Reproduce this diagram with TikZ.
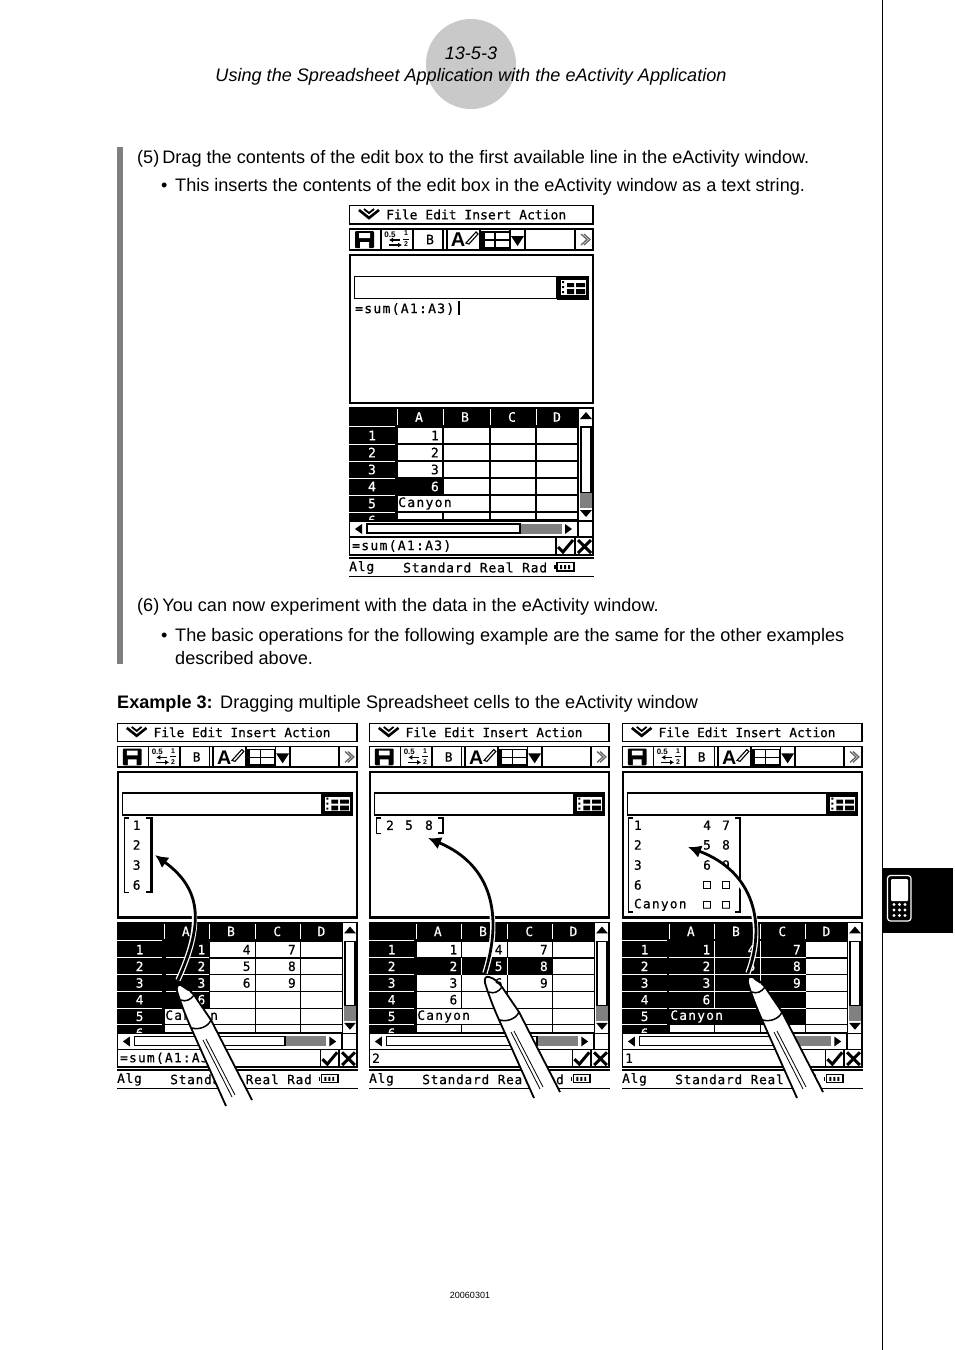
\documentclass[tikz,border=0pt]{standalone}
\usepackage{fontspec}
\usetikzlibrary{arrows.meta}
\setmainfont{Liberation Sans}
\newfontfamily\lcdmenu[FakeBold=.6]{DejaVu Sans Mono}
\newfontfamily\lcdtext[LetterSpace=10,FakeBold=.6]{DejaVu Sans Mono}
\newfontfamily\lcdstat[LetterSpace=6,FakeBold=.6]{DejaVu Sans Mono}
\definecolor{tabgray}{HTML}{C9C9C9}
\definecolor{bargray}{HTML}{7F7F7F}

\tikzset{
  body/.style = {anchor=base west, inner sep=0pt, font=\fontsize{18.1}{20}\selectfont},
  head/.style = {anchor=base, inner sep=0pt, font=\fontsize{18.1}{20}\selectfont\itshape},
  lcd/.style = {inner sep=0pt, font=\fontsize{13}{14}\lcdtext},
  lcdw/.style = {lcd, text=white},
  menutxt/.style = {inner sep=0pt, anchor=west, font=\fontsize{13}{14}\lcdmenu},
  stat/.style = {inner sep=0pt, anchor=west, font=\fontsize{13}{14}\lcdstat},
  frame/.style = {draw=black, line width=1.6pt, fill=white},
  thickframe/.style = {draw=black, line width=2.6pt, fill=white},
  grid/.style = {black, line width=1.1pt},
  wgrid/.style = {white, line width=1pt},
  hatch/.style = {fill=black!50},
  pen/.style = {black, line width=1.8pt, line join=round},
  drag/.style = {black, line width=2.8pt, preaction={draw=white, line width=5.4pt, -},
                 -{Latex[length=13pt,width=13pt]}},
}

% toolbar, main window and the empty table of one screen
\newcommand\screenbase{%
  % menu
  \draw[frame] (.5,.5) rectangle (244,19);
  \draw[line width=2.6pt] (10,5) -- (20,13) -- (30,5);
  \draw[line width=1.8pt] (15,4) -- (20,8) -- (25,4);
  \node[menutxt] at (37,9.5) {File Edit Insert Action};
  % toolbar
  \draw[frame] (.5,24) rectangle (244,45);
  \foreach \xa in {32,64,94,98,131,176,226}
    \draw[line width=1.8pt] (\xa,23.5) -- (\xa,45.5);
  \fill[rounded corners=1pt] (6,26) rectangle (25,43);
  \fill[white] (10,28) rectangle (21,33) (11,37) rectangle (20,43);
  \node[inner sep=0pt, font=\bfseries\fontsize{8}{8}\selectfont] at (41,29.5) {0.5};
  \node[inner sep=0pt, font=\bfseries\fontsize{7}{7}\selectfont] at (57,28.5) {1};
  \node[inner sep=0pt, font=\bfseries\fontsize{7}{7}\selectfont] at (57,39.5) {2};
  \draw[line width=.8pt] (54,34) -- (60,34);
  \draw[line width=1.5pt, -{Latex[length=4pt,width=5pt]}] (51,35) -- (40,35);
  \draw[line width=1.5pt, -{Latex[length=4pt,width=5pt]}] (40,40) -- (53,40);
  \node[lcd, font=\fontsize{13}{13}\lcdmenu] at (81,34.5) {B};
  \node[inner sep=0pt, font=\bfseries\fontsize{20}{20}\selectfont] at (109,35) {A};
  \draw[line width=1.1pt] (117,38) -- (127,27) -- (129,29) -- (120,39) -- cycle;
  \draw[line width=1.6pt] (132,27) rectangle (161,43);
  \draw[line width=1.6pt] (132,35) -- (161,35) (146,27) -- (146,43);
  \draw[line width=3pt] (134,27) -- (134,43);
  \draw[line width=1.2pt] (161,24) -- (161,45);
  \fill (162,31) -- (175,31) -- (168.5,41) -- cycle;
  \fill[white] (177,25) rectangle (225,44);
  \draw[black!60, line width=1.3pt] (232,29) -- (238,34.5) -- (232,40) (235,29) -- (241,34.5) -- (235,40);
  % main window
  \draw[thickframe] (1,50) rectangle (244,198);
  \draw[frame] (5.5,71.5) rectangle (208,93.5);
  \fill (208,70.5) rectangle (240,94.5);
  \fill[white] (212,75) rectangle (237,90);
  \fill (218,78) rectangle (225,82) (227,78) rectangle (236,82)
        (218,84) rectangle (225,89) (227,84) rectangle (236,89)
        (213,76) rectangle (215,78) (213,81) rectangle (215,83) (213,86) rectangle (215,88);
  % table
  \fill (0,202) rectangle (229,222);
  \fill (0,222) rectangle (48,315);
  \draw[grid] (48,222) rectangle (229,315);
  \foreach \ya in {239,256,273,290,307} {
    \draw[grid] (48,\ya) -- (229,\ya);
    \draw[wgrid] (0,\ya) -- (46,\ya);
  }
  \draw[wgrid] (0,221) -- (46,221);
  \foreach \xa in {48,141,187} \draw[grid] (\xa,222) -- (\xa,315);
  \draw[grid] (94,222) -- (94,290) (94,307) -- (94,315);
  \foreach \xa in {48,94,141,187} \draw[wgrid] (\xa,204) -- (\xa,220);
  \foreach \xa/\t in {70/A,116/B,163/C,208/D} \node[lcdw] at (\xa,212) {\t};
  \foreach \ya/\t in {230.5/1,247.5/2,264.5/3,281.5/4,298.5/5} \node[lcdw] at (23,\ya) {\t};
  \begin{scope}
    \clip (0,307.5) rectangle (48,315);
    \node[lcdw] at (23,315.5) {6};
  \end{scope}
  % scroll bars
  \draw[frame] (229.5,203) rectangle (244,316);
  \fill (231,214) -- (243,214) -- (237,207) -- cycle;
  \draw[line width=1.4pt] (232,222) rectangle (242,288);
  \fill[hatch] (231,288) rectangle (243,303);
  \fill (231,305) -- (243,305) -- (237,312) -- cycle;
  \draw[frame] (.5,316) rectangle (229,332);
  \draw[frame] (229,316) rectangle (244,332);
  \fill (13,319) -- (13,329) -- (6,324) -- cycle;
  \draw[line width=1.4pt] (18,319) rectangle (171,328);
  \fill[hatch] (172,318.5) rectangle (213,329);
  \fill (216,319) -- (216,329) -- (223,324) -- cycle;
  % edit line and status line
  \draw[frame] (.5,332) rectangle (244,350);
  \draw[line width=1.4pt] (207,332) -- (207,350) (226,332) -- (226,350);
  \draw[line width=3pt] (209,342) -- (214,347) -- (224,335);
  \draw[line width=3pt] (229,335) -- (242,348) (242,335) -- (229,348);
  \draw[line width=1.1pt] (0,371.5) -- (245,371.5) (0,353) -- (245,353);
  \node[stat] at (0,362.5) {Alg};
  \draw[line width=1.4pt] (208,357.5) rectangle (225,366) (206,360) -- (206,364);
  \fill (211,360) rectangle (213,364) (215,360) rectangle (217,364) (219,360) rectangle (221,364);
}

% stylus with its tip at #1
\newcommand\stylus[1]{%
  \begin{scope}[shift={(#1)}]
    \fill[white] (47,121) -- (13,45) -- (2,20) -- (-2,4) -- (0,0) -- (15,10) -- (32,35) -- (73,115) -- cycle;
    \draw[pen] (47,121) -- (13,45) .. controls (8,34) and (3,22) .. (-2,6)
      .. controls (-3,1) and (-1,-1) .. (2,0) .. controls (7,1) and (11,5) .. (15,10)
      -- (32,35) -- (73,115);
    \draw[pen, line width=1.5pt] (2,15) .. controls (6,17) and (12,15) .. (15,10);
    \draw[pen, line width=1.5pt] (13,43) .. controls (20,45) and (29,42) .. (32,35);
    \draw[black, line width=.8pt] (24,55) -- (53,112) (27,54) -- (56,110);
  \end{scope}
}

\begin{document}
\begin{tikzpicture}[x=1pt, y=-1pt]
  \useasboundingbox (0,0) rectangle (954,1350);
  \fill[white] (0,0) rectangle (954,1350);
  % page furniture
  \fill[tabgray] (471,64) circle (45);
  \node[head] (secno) at (471,59) {13-5-3};
  \node[head] (title) at (471,81) {Using the Spreadsheet Application with the eActivity Application};
  \fill[bargray] (117,147) rectangle (123,664);
  \draw[line width=.8pt] (882.5,0) -- (882.5,1350);
  \fill (882,868) rectangle (953,933);
  \draw[white, line width=1.2pt, rounded corners=3pt] (887.5,875.5) rectangle (911,921);
  \fill[white, rounded corners=1pt] (891,879) rectangle (908,901);
  \foreach \xa in {894,899.5,905} \foreach \ya in {904.5,910,915.5}
    \fill[white] (\xa,\ya) circle (1.7);
  \node[inner sep=0pt, anchor=base, font=\fontsize{9}{10}\selectfont] (stamp) at (470,1298) {20060301};
  % text
  \node[body] (stepfive) at (137,163) {(5)\hspace{-2pt} Drag the contents of the edit box to the first available line in the eActivity window.};
  \node[body] (dotone) at (161,191) {•};
  \node[body] (noteone) at (175,191) {This inserts the contents of the edit box in the eActivity window as a text string.};
  \node[body] (stepsix) at (137,611) {(6)\hspace{-2pt} You can now experiment with the data in the eActivity window.};
  \node[body] (dottwo) at (161,641) {•};
  \node[body] (notetwo) at (175,641) {The basic operations for the following example are the same for the other examples};
  \node[body] (notethree) at (175,664) {described above.};
  \node[body, font=\fontsize{18.1}{20}\selectfont\bfseries] (exlabel) at (117,708) {Example 3:};
  \node[body] (extext) at (220,708) {Dragging multiple Spreadsheet cells to the eActivity window};

  % upper screen
  \begin{scope}[shift={(349,205)}]
    \screenbase
    \fill (48,273) rectangle (94,290);
    \foreach \ya/\t in {230.5/1,247.5/2,264.5/3} \node[lcd, anchor=east] at (90,\ya) {\t};
    \node[lcdw, anchor=east] at (90,281.5) {6};
    \node[lcd, anchor=west] at (49,298.5) {Canyon};
    \node[lcd, anchor=west] at (6,104) {=sum(A1:A3)};
    \draw[line width=2.4pt] (110,96) -- (110,110);
    \node[lcd, anchor=west] at (3,341) {=sum(A1:A3)};
    \node[stat] at (54,362.5) {Standard Real Rad};
  \end{scope}

  % left screen
  \begin{scope}[shift={(117,723)}, scale=.983, transform shape]
    \screenbase
    \fill (48,222) rectangle (94,290);
    \foreach \ya in {239,256,273} \draw[wgrid] (50,\ya) -- (94,\ya);
    \foreach \ya/\ta/\tb/\tc in {230.5/1/4/7,247.5/2/5/8,264.5/3/6/9} {
      \node[lcdw, anchor=east] at (90,\ya) {\ta};
      \node[lcd, anchor=east] at (136,\ya) {\tb};
      \node[lcd, anchor=east] at (182,\ya) {\tc};
    }
    \node[lcdw, anchor=east] at (90,281.5) {6};
    \node[lcd, anchor=west] at (49,298.5) {Canyon};
    \foreach \ya/\t in {104/1,124/2,144.5/3,164.8/6} \node[lcd] at (20,\ya) {\t};
    \draw[line width=1.1pt] (12,96.6) -- (8,96.6) -- (8,172) -- (12,172);
    \draw[line width=2.4pt] (30,96.6) -- (35,96.6) -- (35,172) -- (30,172);
    \node[lcd, anchor=west] at (3,341) {=sum(A1:A3)};
    \node[stat] at (54,362.5) {Standard Real Rad};
  \end{scope}

  % middle screen
  \begin{scope}[shift={(369,723)}, scale=.983, transform shape]
    \screenbase
    \fill (48,239) rectangle (187,256);
    \draw[wgrid] (94,239) -- (94,256) (141,239) -- (141,256);
    \foreach \ya/\ta/\tb/\tc in {230.5/1/4/7,264.5/3/6/9} {
      \node[lcd, anchor=east] at (90,\ya) {\ta};
      \node[lcd, anchor=east] at (136,\ya) {\tb};
      \node[lcd, anchor=east] at (182,\ya) {\tc};
    }
    \foreach \xa/\t in {90/2,136/5,182/8} \node[lcdw, anchor=east] at (\xa,247.5) {\t};
    \node[lcd, anchor=east] at (90,281.5) {6};
    \node[lcd, anchor=west] at (49,298.5) {Canyon};
    \foreach \xa/\t in {21.4/2,40.7/5,61/8} \node[lcd] at (\xa,104) {\t};
    \draw[line width=1.1pt] (12,96.6) -- (8,96.6) -- (8,112) -- (12,112);
    \draw[line width=2.4pt] (70,96.6) -- (75,96.6) -- (75,112) -- (70,112);
    \node[lcd, anchor=west] at (3,341) {2};
    \node[stat] at (54,362.5) {Standard Real Rad};
  \end{scope}

  % right screen
  \begin{scope}[shift={(622,723)}, scale=.983, transform shape]
    \screenbase
    \fill (48,222) rectangle (187,307);
    \foreach \ya in {239,256,273,290} \draw[wgrid] (48,\ya) -- (187,\ya);
    \draw[wgrid] (94,222) -- (94,290) (141,222) -- (141,290);
    \foreach \ya/\ta/\tb/\tc in {230.5/1/4/7,247.5/2/5/8,264.5/3/6/9} {
      \node[lcdw, anchor=east] at (90,\ya) {\ta};
      \node[lcdw, anchor=east] at (136,\ya) {\tb};
      \node[lcdw, anchor=east] at (182,\ya) {\tc};
    }
    \node[lcdw, anchor=east] at (90,281.5) {6};
    \node[lcdw, anchor=west] at (49,298.5) {Canyon};
    \foreach \ya/\ta/\tb/\tc in {104/1/4/7,124/2/5/8,144.5/3/6/9,164.8/6/□/□,185/Canyon/□/□} {
      \node[lcd, anchor=west] at (12,\ya) {\ta};
      \node[lcd] at (86.5,\ya) {\tb};
      \node[lcd] at (105.8,\ya) {\tc};
    }
    \draw[line width=1.1pt] (11,96.6) -- (7,96.6) -- (7,192.3) -- (11,192.3);
    \draw[line width=2.4pt] (115,96.6) -- (120,96.6) -- (120,192.3) -- (115,192.3);
    \node[lcd, anchor=west] at (3,341) {1};
    \node[stat] at (54,362.5) {Standard Real Rad};
  \end{scope}

  % drag arrows and pens
  \draw[drag] (178,980) .. controls (203,925) and (203,890) .. (155,855);
  \draw[drag] (485,973) .. controls (503,915) and (492,865) .. (428,838);
  \draw[drag] (748,973) .. controls (766,925) and (755,872) .. (688,847);
  \stylus{179,985}
  \stylus{487,977}
  \stylus{750,977}
\end{tikzpicture}
\end{document}
